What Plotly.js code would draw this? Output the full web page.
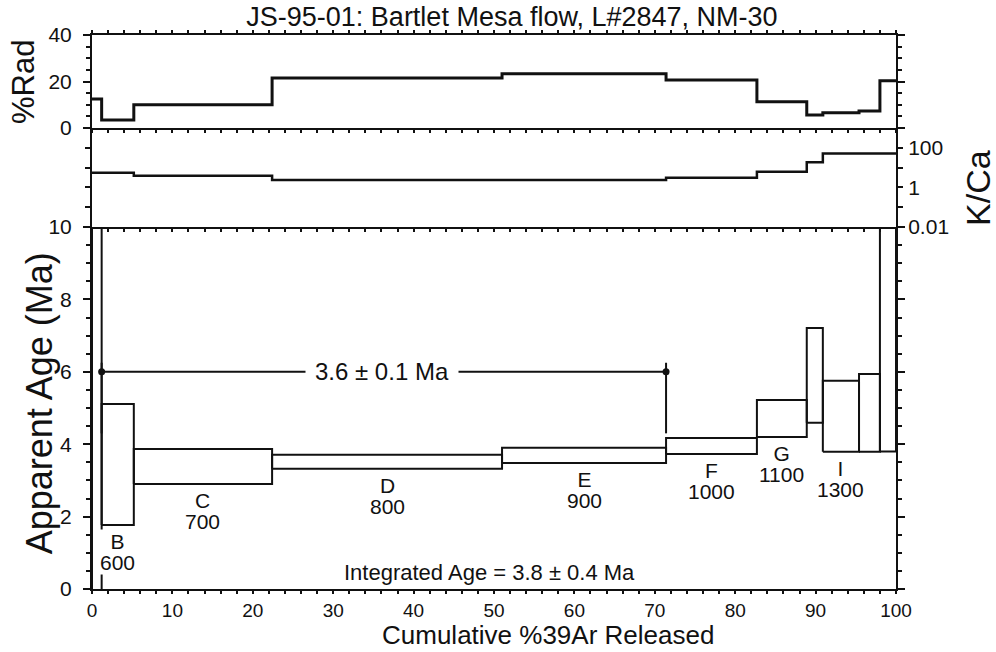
<!DOCTYPE html>
<html>
<head>
<meta charset="utf-8">
<script src="https://cdn.plot.ly/plotly-3.0.1.min.js"></script>
<style>
  html, body { margin: 0; padding: 0; background: #fff; }
  #chart { width: 996px; height: 652px; }
</style>
</head>
<body>
<div id="chart"></div>
<script>
// Step-heating results, sample JS-95-01 (Bartlet Mesa flow, L#2847, NM-30)
const stepIds    = ['A', 'B', 'C', 'D', 'E', 'F', 'G', 'H', 'I', 'J', 'K'];
const stepLabels = ['', 'B', 'C', 'D', 'E', 'F', 'G', '', 'I', '', ''];
const stepTemps  = ['', '600', '700', '800', '900', '1000', '1100', '', '1300', '', ''];
// cumulative %39Ar at the end of each step
const cumAr39    = [1.2, 5.2, 22.4, 51.0, 71.4, 82.7, 88.9, 90.9, 95.4, 98.0, 100];
// apparent age envelope (Ma) of each step
const ageLow     = [-2, 1.77, 2.90, 3.32, 3.48, 3.73, 4.20, 4.59, 3.79, 3.79, 3.80];
const ageHigh    = [12, 5.11, 3.87, 3.71, 3.90, 4.17, 5.22, 7.21, 5.75, 5.94, 12];
// radiogenic yield (%) and K/Ca of each step
const radPct     = [12.5, 3.5, 10.0, 21.5, 23.3, 20.6, 11.3, 5.6, 6.6, 7.3, 20.3];
const kca        = [5.5, 5.5, 3.9, 2.4, 2.4, 3.1, 6.2, 18.6, 52, 52, 52];

// plateau: steps B..E, bracket drawn at 6 Ma
const plateauFrom = 'B';
const plateauTo   = 'E';
const plateauAge  = '3.6 ± 0.1 Ma';
const plateauDrawLevel = 6;
const plateauTick = [4.3, 6.25];
const integratedAge = 'Integrated Age = 3.8 ± 0.4 Ma';

const FONT = 'Liberation Sans, Arial, Helvetica, sans-serif';
const INK = '#111';

const stepLeft = cumAr39.map((v, i) => (i === 0 ? 0 : cumAr39[i - 1]));

function stepLine(vals) {
  return {
    x: stepLeft.concat([cumAr39[cumAr39.length - 1]]),
    y: vals.concat([vals[vals.length - 1]])
  };
}

// rectangles of the age spectrum
const boxX = [], boxY = [];
stepIds.forEach((id, i) => {
  const l = stepLeft[i], r = cumAr39[i];
  boxX.push(l, r, r, l, l, null);
  boxY.push(ageLow[i], ageLow[i], ageHigh[i], ageHigh[i], ageLow[i], null);
});

const pStart = stepLeft[stepIds.indexOf(plateauFrom)];
const pEnd = cumAr39[stepIds.indexOf(plateauTo)];

const rad = stepLine(radPct);
const kc = stepLine(kca);

const traces = [
  { x: rad.x, y: rad.y, xaxis: 'x3', yaxis: 'y3', mode: 'lines',
    line: { shape: 'hv', color: INK, width: 3 }, hoverinfo: 'skip' },
  { x: kc.x, y: kc.y, xaxis: 'x2', yaxis: 'y2', mode: 'lines',
    line: { shape: 'hv', color: INK, width: 2.5 }, hoverinfo: 'skip' },
  { x: boxX, y: boxY, xaxis: 'x', yaxis: 'y', mode: 'lines',
    line: { color: INK, width: 2 }, hoverinfo: 'skip' },
  // plateau bracket
  { x: [pStart, pEnd], y: [plateauDrawLevel, plateauDrawLevel], xaxis: 'x', yaxis: 'y',
    mode: 'lines+markers', line: { color: INK, width: 2 },
    marker: { color: INK, size: 7 }, hoverinfo: 'skip' },
  { x: [pStart, pStart, null, pEnd, pEnd], y: [plateauTick[0], plateauTick[1], null, plateauTick[0], plateauTick[1]],
    xaxis: 'x', yaxis: 'y', mode: 'lines', line: { color: INK, width: 2 }, hoverinfo: 'skip' }
];

// step letter with its temperature underneath (tight line spacing)
const big = s => '<span style="font-size:21px">' + s + '</span>';
const annotations = [];
stepIds.forEach((id, i) => {
  if (!stepLabels[i]) return;
  const xc = (stepLeft[i] + cumAr39[i]) / 2;
  annotations.push({
    x: xc, y: ageLow[i], xref: 'x', yref: 'y', xanchor: 'center', yanchor: 'top', yshift: -4,
    text: big(stepLabels[i]) + '<br>' + big(stepTemps[i]), showarrow: false,
    bgcolor: '#fff', borderpad: 0,
    font: { family: FONT, size: 16, color: INK }
  });
});

annotations.push(
  { x: 36.1, y: plateauDrawLevel, xref: 'x', yref: 'y', xanchor: 'center', yanchor: 'middle',
    text: plateauAge, showarrow: false, bgcolor: '#fff', borderpad: 9,
    font: { family: FONT, size: 24, color: INK } },
  { x: 49.5, y: 0.45, xref: 'x', yref: 'y', xanchor: 'center', yanchor: 'middle',
    text: integratedAge, showarrow: false, font: { family: FONT, size: 22, color: INK } },
  { x: -0.086, y: 0.915, xref: 'paper', yref: 'paper', xanchor: 'center', yanchor: 'middle',
    text: '%Rad', textangle: -90, showarrow: false, font: { family: FONT, size: 31, color: INK } },
  { x: -0.066, y: 0.335, xref: 'paper', yref: 'paper', xanchor: 'center', yanchor: 'middle',
    text: 'Apparent Age (Ma)', textangle: -90, showarrow: false, font: { family: FONT, size: 36, color: INK } },
  { x: 1.102, y: 0.724, xref: 'paper', yref: 'paper', xanchor: 'center', yanchor: 'middle',
    text: 'K/Ca', textangle: -90, showarrow: false, font: { family: FONT, size: 34, color: INK } },
  { x: 0.567, y: -0.083, xref: 'paper', yref: 'paper', xanchor: 'center', yanchor: 'middle',
    text: 'Cumulative %39Ar Released', showarrow: false, font: { family: FONT, size: 26, color: INK } }
);

const axLine = { showline: true, linecolor: INK, linewidth: 2, showgrid: false, zeroline: false,
  tickcolor: INK, tickfont: { family: FONT, size: 21, color: INK } };

const xBase = Object.assign({}, axLine, {
  range: [0, 100], dtick: 10, tick0: 0, ticks: 'outside', ticklen: 3, tickwidth: 2,
  tickfont: { family: FONT, size: 19, color: INK },
  minor: { dtick: 2, ticks: 'outside', ticklen: 3, tickwidth: 2, tickcolor: INK }
});

const layout = {
  width: 996, height: 652,
  margin: { l: 92, r: 100, t: 35, b: 63 },
  paper_bgcolor: '#fff', plot_bgcolor: '#fff',
  showlegend: false,
  title: { text: 'JS-95-01: Bartlet Mesa flow, L#2847, NM-30', x: 0.514, xanchor: 'center',
    y: 0.975, yanchor: 'middle', font: { family: FONT, size: 27, color: INK } },
  xaxis: Object.assign({}, xBase, { anchor: 'y', domain: [0, 1] }),
  xaxis2: Object.assign({}, xBase, { anchor: 'y2', matches: 'x', showticklabels: false }),
  xaxis3: Object.assign({}, xBase, { anchor: 'y3', matches: 'x', showticklabels: false, mirror: 'ticks' }),
  yaxis: Object.assign({}, axLine, {
    domain: [0, 0.6534], range: [0, 10], dtick: 2, tick0: 0, ticks: 'outside', ticklen: 7, tickwidth: 2,
    mirror: 'ticks', ticklabelstandoff: 7,
    minor: { dtick: 0.5, ticks: 'outside', ticklen: 4, tickwidth: 2, tickcolor: INK }
  }),
  yaxis2: Object.assign({}, axLine, {
    domain: [0.6534, 0.8321], type: 'log', range: [-2, 3], side: 'right', anchor: 'x2',
    tickmode: 'array', tickvals: [0.01, 0.1, 1, 10, 100, 1000], ticktext: ['0.01', '', '1', '', '100', ''],
    ticks: 'outside', ticklen: 5, tickwidth: 2, mirror: 'ticks', ticklabelstandoff: 1
  }),
  yaxis3: Object.assign({}, axLine, {
    domain: [0.8321, 1], range: [0, 40], dtick: 20, tick0: 0, anchor: 'x3',
    ticks: 'outside', ticklen: 7, tickwidth: 2, mirror: 'ticks', ticklabelstandoff: 7,
    minor: { dtick: 5, ticks: 'outside', ticklen: 4, tickwidth: 2, tickcolor: INK }
  }),
  annotations: annotations
};

Plotly.newPlot('chart', traces, layout, { staticPlot: true, displayModeBar: false });
</script>
</body>
</html>
